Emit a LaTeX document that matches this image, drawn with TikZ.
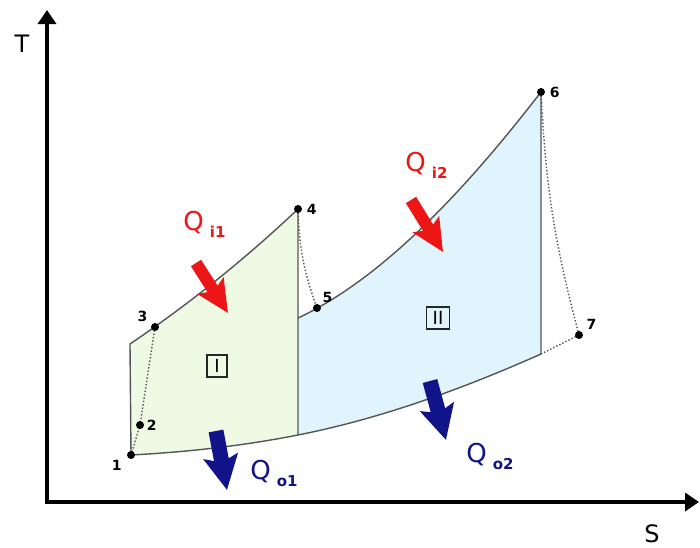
\documentclass[tikz,border=0pt]{standalone}
\usepackage{fontspec}
\setmainfont{DejaVu Sans}
\usetikzlibrary{arrows.meta,positioning}
\definecolor{cycGreen}{RGB}{238,250,228}
\definecolor{cycBlue}{RGB}{224,244,253}
\definecolor{heatRed}{RGB}{236,22,22}
\definecolor{heatBlue}{RGB}{16,20,136}
\definecolor{lineGray}{RGB}{85,85,85}
\newcommand{\heatlbl}[1]{Q\hspace{3pt}\raisebox{-3.5pt}{\fontsize{7.5}{9}\selectfont\bfseries #1}}
\tikzset{
	axis/.style={line width=2pt, line cap=rect, -{Triangle[length=7pt,width=9pt]}},
	axlabel/.style={font=\fontsize{12}{14}\selectfont, inner sep=0pt},
	proc/.style={lineGray, line width=0.7pt},
	dotproc/.style={lineGray, densely dotted, line width=0.7pt},
	statept/.style={circle, fill=black, inner sep=0pt, minimum size=4pt},
	ptlabel/.style={font=\bfseries\scriptsize, inner sep=1pt},
	heatin/.style={heatRed, line width=6pt, -{Stealth[length=16pt,width=15pt,inset=3pt]}},
	heatout/.style={heatBlue, line width=7.5pt, -{Stealth[length=17pt,width=17pt,inset=3pt]}},
	qlabel/.style={font=\fontsize{13}{15}\selectfont, inner sep=0pt, anchor=base west},
	zone/.style={draw=black!85, line width=0.6pt, inner xsep=3pt, inner ysep=2pt,
		minimum width=10pt, minimum height=11pt, font=\small}
}

\begin{document}
\begin{tikzpicture}[x=0.5pt, y=-0.5pt]
	\useasboundingbox (0,0) rectangle (700,547);
	\coordinate (O) at (47,502);
	\coordinate (Ttop) at (47,10);
	\coordinate (Sright) at (699,502);
	\coordinate (p1) at (131,455);
	\coordinate (p2) at (140,425);
	\coordinate (p3) at (155,327);
	\coordinate (p4) at (298,209);
	\coordinate (p5) at (317,308);
	\coordinate (p6) at (541,92);
	\coordinate (p7) at (579,335);
	\coordinate (c1) at (130,344);
	\coordinate (g4) at (298,435);
	\coordinate (b5) at (298,318);
	\coordinate (b6) at (541,354);

	\fill[cycGreen] (c1) .. controls (186,306) and (242,262) .. (p4) -- (g4)
		.. controls (242,446) and (187,452) .. (p1) -- cycle;
	\fill[cycBlue] (b5) .. controls (379,280) and (460,197) .. (p6) -- (b6)
		.. controls (460,390) and (379,419) .. (g4) -- cycle;

	\draw[proc] (p1) -- (c1) .. controls (186,306) and (242,262) .. (p4) -- (g4);
	\draw[proc] (b5) .. controls (379,280) and (460,197) .. (p6) -- (b6);
	\draw[proc] (p1) .. controls (187,452) and (242,446) .. (g4)
		.. controls (379,419) and (460,390) .. (b6);
	\draw[dotproc] (p1) -- (p2) -- (p3);
	\draw[dotproc] (p4) to[bend right=9] (p5);
	\draw[dotproc] (p6) to[bend right=6] (p7);
	\draw[dotproc] (b6) -- (p7);

	\draw[axis] (O) -- (Ttop);
	\draw[axis] (O) -- (Sright);
	\node[axlabel] (Tlbl) at (22,44) {T};
	\node[axlabel] (Slbl) at (652,534) {S};

	\node[statept] (d1) at (p1) {};
	\node[statept] (d2) at (p2) {};
	\node[statept] (d3) at (p3) {};
	\node[statept] (d4) at (p4) {};
	\node[statept] (d5) at (p5) {};
	\node[statept] (d6) at (p6) {};
	\node[statept] (d7) at (p7) {};
	\node[ptlabel, below left=0pt and 2pt of d1] (l1) {1};
	\node[ptlabel, right=0pt of d2] (l2) {2};
	\node[ptlabel, above left=0pt and 1pt of d3] (l3) {3};
	\node[ptlabel, right=1pt of d4] (l4) {4};
	\node[ptlabel, above right=0pt and 0pt of d5] (l5) {5};
	\node[ptlabel, right=1pt of d6] (l6) {6};
	\node[ptlabel, above right=0pt and 1pt of d7] (l7) {7};

	\node[zone] (zI) at (217,366) {I};
	\node[zone] (zII) at (438,318) {II};

	\coordinate (qi1a) at (196,263);
	\coordinate (qi1b) at (228,313);
	\coordinate (qi2a) at (411,200);
	\coordinate (qi2b) at (443,252);
	\coordinate (qo1a) at (216,431);
	\coordinate (qo1b) at (227,490);
	\coordinate (qo2a) at (430,381);
	\coordinate (qo2b) at (446,440);
	\draw[heatin] (qi1a) -- (qi1b);
	\draw[heatin] (qi2a) -- (qi2b);
	\draw[heatout] (qo1a) -- (qo1b);
	\draw[heatout] (qo2a) -- (qo2b);
	\node[qlabel, heatRed] (Qi1) at (183,230) {\heatlbl{i1}};
	\node[qlabel, heatRed] (Qi2) at (405,171) {\heatlbl{i2}};
	\node[qlabel, heatBlue] (Qo1) at (250,479) {\heatlbl{o1}};
	\node[qlabel, heatBlue] (Qo2) at (466,462) {\heatlbl{o2}};
\end{tikzpicture}
\end{document}
